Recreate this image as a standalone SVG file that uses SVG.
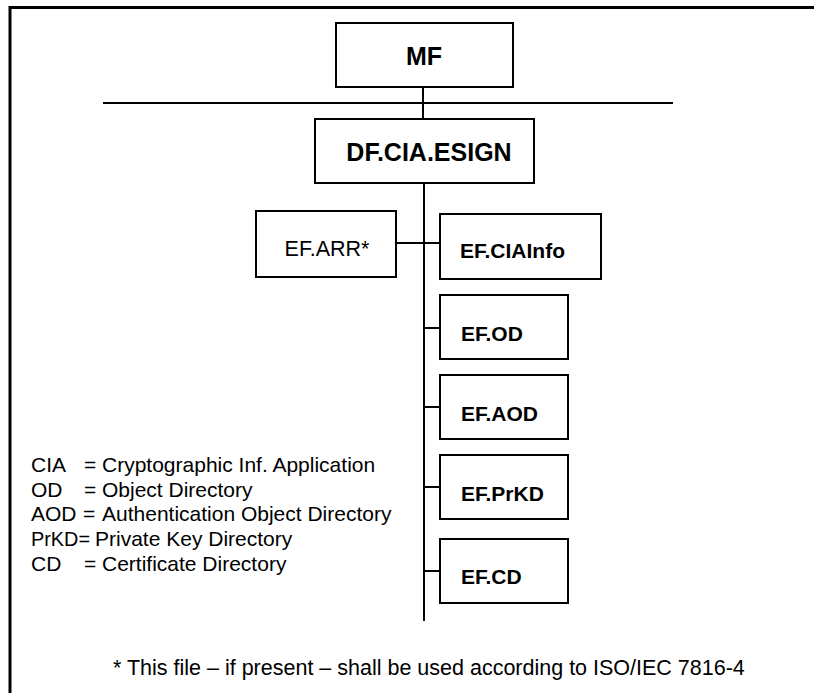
<svg xmlns="http://www.w3.org/2000/svg" width="814" height="693" viewBox="0 0 814 693">
  <style>
    .box { fill: #ffffff; stroke: #000000; stroke-width: 2; }
    .wire { fill: none; stroke: #000000; stroke-width: 2; }
    .frame { fill: none; stroke: #000000; stroke-width: 3; }
    .lbl { font-family: "Liberation Sans", Arial, sans-serif; fill: #000000; }
    .b { font-weight: bold; }
    .legend { font-family: "Liberation Sans", Arial, sans-serif; font-size: 21px; fill: #000000; }
  </style>
  <rect width="814" height="693" fill="#ffffff"/>
  <!-- outer frame (top and left edges) -->
  <path class="frame" d="M10,693 V7.5 H814"/>

  <!-- connectors -->
  <g id="connectors">
    <line class="wire" x1="423" y1="87" x2="423" y2="119"/>
    <line class="wire" x1="103" y1="103" x2="673" y2="103"/>
    <line class="wire" x1="424" y1="183" x2="424" y2="621"/>
    <line class="wire" x1="396" y1="243" x2="440" y2="243"/>
    <line class="wire" x1="424" y1="328" x2="440" y2="328"/>
    <line class="wire" x1="424" y1="407" x2="440" y2="407"/>
    <line class="wire" x1="424" y1="487" x2="440" y2="487"/>
    <line class="wire" x1="424" y1="571" x2="440" y2="571"/>
  </g>

  <g id="mf">
    <rect class="box" x="336" y="23" width="177" height="64"/>
    <text class="lbl b" x="424" y="65" font-size="25" text-anchor="middle">MF</text>
  </g>

  <g id="df-cia-esign">
    <rect class="box" x="315" y="119" width="219" height="64"/>
    <text class="lbl b" x="429" y="161" font-size="25" text-anchor="middle">DF.CIA.ESIGN</text>
  </g>

  <g id="ef-arr">
    <rect class="box" x="256" y="211" width="140" height="66"/>
    <text class="lbl" x="327" y="256" font-size="21.5" text-anchor="middle">EF.ARR*</text>
  </g>

  <g id="ef-ciainfo">
    <rect class="box" x="440" y="214" width="161" height="65"/>
    <text class="lbl b" x="460" y="258" font-size="21">EF.CIAInfo</text>
  </g>

  <g id="ef-od">
    <rect class="box" x="440" y="295" width="128" height="64"/>
    <text class="lbl b" x="461" y="341" font-size="21">EF.OD</text>
  </g>

  <g id="ef-aod">
    <rect class="box" x="440" y="375" width="128" height="64"/>
    <text class="lbl b" x="461" y="421" font-size="21">EF.AOD</text>
  </g>

  <g id="ef-prkd">
    <rect class="box" x="440" y="455" width="128" height="64"/>
    <text class="lbl b" x="461" y="501" font-size="21">EF.PrKD</text>
  </g>

  <g id="ef-cd">
    <rect class="box" x="440" y="539" width="128" height="64"/>
    <text class="lbl b" x="461" y="584" font-size="21">EF.CD</text>
  </g>

  <!-- abbreviation legend -->
  <g id="legend" class="legend">
    <text y="472"><tspan x="31">CIA</tspan><tspan x="84">=</tspan><tspan x="102">Cryptographic Inf. Application</tspan></text>
    <text y="497"><tspan x="31">OD</tspan><tspan x="84">=</tspan><tspan x="102">Object Directory</tspan></text>
    <text y="521"><tspan x="31">AOD</tspan><tspan x="83">=</tspan><tspan x="102">Authentication Object Directory</tspan></text>
    <text y="546"><tspan x="31" textLength="59" lengthAdjust="spacingAndGlyphs">PrKD=</tspan><tspan x="95">Private Key Directory</tspan></text>
    <text y="571"><tspan x="31">CD</tspan><tspan x="84">=</tspan><tspan x="102">Certificate Directory</tspan></text>
  </g>

  <!-- footnote -->
  <g id="footnote">
    <text class="lbl" x="113" y="675" font-size="21.5">* This file – if present – shall be used according to ISO/IEC 7816-4</text>
  </g>
</svg>
